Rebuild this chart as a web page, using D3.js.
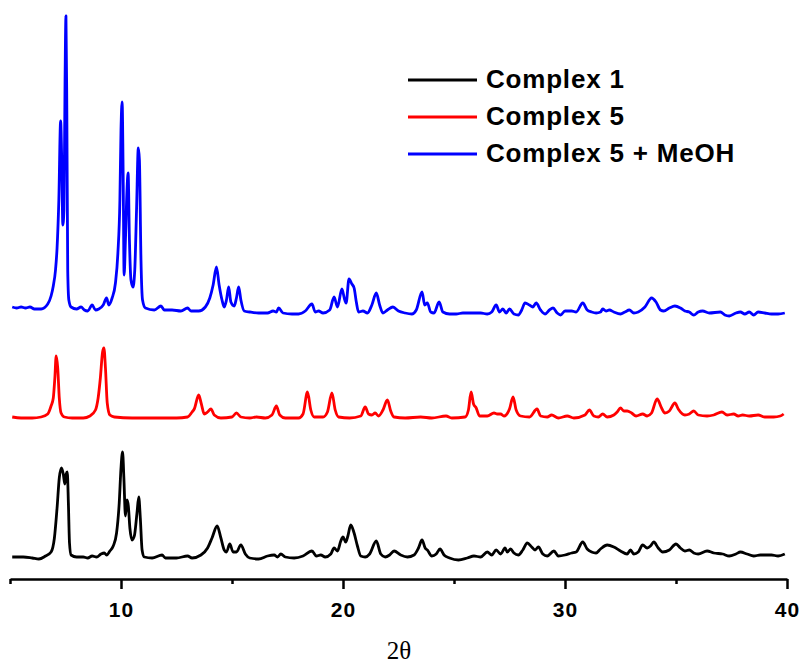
<!DOCTYPE html>
<html>
<head>
<meta charset="utf-8">
<script src="https://cdn.jsdelivr.net/npm/d3@7"></script>
<style>
body { margin: 0; background: #fff; }
</style>
</head>
<body>
<svg id="xrd" width="801" height="668"></svg>
<script>

// series names + colours (legend order)
let seriesNames = ["Complex 1", "Complex 5", "Complex 5 + MeOH"];
let seriesColors = ["#000000", "#ff0000", "#0000ff"];

// vertical offsets of each pattern (intensity units)
let offsets = [22, 162, 270];

// x axis ticks
let majorTicks = [10, 20, 30, 40];
let minorTicks = [5, 15, 25, 35];

// Complex 1  [2theta, intensity]
let complex1 = [
  [5.1,1],[5.6,1],[6.0,0],[6.3,-1],[6.6,2],[6.85,6],[7.0,20],[7.12,50],[7.22,80],[7.32,90],
  [7.4,84],[7.47,74],[7.53,84],[7.58,86],[7.63,55],[7.68,15],[7.75,3],[8.0,1],[8.3,1],[8.5,0],
  [8.7,2],[8.9,1],[9.1,4],[9.25,5],[9.35,3],[9.5,7],[9.65,12],[9.8,25],[9.92,55],[10.0,90],
  [10.07,106],[10.13,80],[10.2,42],[10.27,58],[10.33,52],[10.4,30],[10.5,18],[10.6,22],[10.72,45],[10.8,61],
  [10.87,40],[10.95,8],[11.05,1],[11.4,0],[11.85,3],[12.0,0],[12.5,0],[13.0,2],[13.2,0],[13.6,3],
  [13.9,10],[14.1,20],[14.33,32],[14.5,20],[14.65,8],[14.75,6],[14.9,14],[15.05,6],[15.2,6],[15.4,13],
  [15.6,4],[15.8,0],[16.2,-1],[16.6,2],[16.9,3],[17.05,1],[17.2,4],[17.4,1],[17.8,0],[18.2,2],
  [18.6,7],[18.8,2],[19.0,3],[19.2,1],[19.45,4],[19.6,10],[19.75,7],[19.9,17],[20.0,21],[20.12,16],
  [20.22,22],[20.35,33],[20.5,25],[20.65,12],[20.8,2],[21.0,1],[21.2,4],[21.5,17],[21.7,4],[21.9,1],
  [22.1,3],[22.3,7],[22.6,3],[22.9,1],[23.2,3],[23.4,10],[23.56,18],[23.7,10],[23.8,8],[24.0,2],
  [24.2,4],[24.37,9],[24.55,3],[24.8,0],[25.2,-2],[25.6,0],[25.9,2],[26.2,1],[26.5,6],[26.7,3],
  [26.9,8],[27.1,4],[27.3,10],[27.4,6],[27.55,9],[27.7,5],[27.9,3],[28.1,8],[28.3,15],[28.5,11],
  [28.65,8],[28.8,11],[29.0,4],[29.2,2],[29.5,7],[29.7,2],[30.0,3],[30.3,5],[30.5,6],[30.8,16],
  [31.0,9],[31.2,6],[31.4,5],[31.6,9],[31.9,13],[32.2,11],[32.5,7],[32.8,4],[32.95,8],[33.1,4],
  [33.3,6],[33.5,13],[33.7,10],[33.85,12],[34.0,16],[34.2,10],[34.4,6],[34.7,8],[35.0,14],[35.2,10],
  [35.4,7],[35.6,8],[35.8,5],[36.0,4],[36.4,7],[36.7,5],[37.1,4],[37.4,2],[37.7,4],[37.9,6],
  [38.2,4],[38.5,2],[38.8,3],[39.0,3],[39.3,3],[39.6,2],[39.9,4]
];

// Complex 5
let complex5 = [
  [5.1,1],[5.5,0],[6.0,0],[6.4,1],[6.7,4],[6.85,12],[6.95,20],[7.02,40],[7.08,62],[7.15,50],
  [7.22,20],[7.3,5],[7.45,1],[7.8,0],[8.3,0],[8.6,2],[8.85,8],[8.97,20],[9.07,40],[9.17,66],
  [9.23,70],[9.3,50],[9.38,15],[9.5,3],[9.7,1],[10.5,0],[11.5,0],[12.5,0],[13.0,1],[13.2,6],
  [13.3,9],[13.5,23],[13.62,14],[13.75,4],[13.9,6],[14.05,9],[14.2,3],[14.5,0],[15.0,1],[15.2,5],
  [15.4,1],[15.8,0],[16.1,1],[16.5,0],[16.8,3],[17.0,12],[17.15,3],[17.4,0],[18.0,0],[18.2,4],
  [18.4,26],[18.55,8],[18.7,1],[19.1,1],[19.3,6],[19.5,25],[19.65,8],[19.8,1],[20.3,0],[20.8,2],
  [21.0,11],[21.15,4],[21.3,3],[21.45,5],[21.6,2],[21.8,8],[22.0,18],[22.15,7],[22.3,1],[22.8,0],
  [23.5,1],[24.0,0],[24.64,2],[24.9,0],[25.5,1],[25.65,8],[25.77,26],[25.88,14],[26.0,10],[26.15,2],
  [26.5,2],[26.8,5],[26.95,4],[27.1,4],[27.25,2],[27.5,9],[27.66,21],[27.8,8],[28.0,2],[28.4,1],
  [28.74,9],[28.9,2],[29.2,1],[29.4,3],[29.7,0],[30.1,2],[30.4,0],[30.9,3],[31.1,8],[31.3,2],
  [31.5,1],[31.7,4],[31.9,1],[32.2,3],[32.35,6],[32.5,10],[32.65,7],[32.8,7],[33.0,5],[33.2,2],
  [33.5,4],[33.7,2],[33.9,5],[34.15,19],[34.35,10],[34.5,5],[34.7,7],[34.95,15],[35.1,9],[35.4,3],
  [35.6,4],[35.8,7],[36.0,3],[36.4,2],[36.7,3],[37.07,6],[37.3,3],[37.6,4],[37.8,2],[38.0,3],
  [38.3,2],[38.7,3],[39.0,1],[39.4,1],[39.7,2],[39.85,4]
];

// Complex 5 + MeOH
let complex5MeOH = [
  [5.1,3],[5.3,2],[5.5,3],[5.7,2],[5.9,3],[6.1,1],[6.4,1],[6.7,6],[6.85,14],[6.95,24],
  [7.05,40],[7.12,62],[7.2,110],[7.28,189],[7.33,150],[7.38,85],[7.43,100],[7.48,230],[7.52,294],[7.56,200],
  [7.6,40],[7.65,10],[7.75,3],[8.0,1],[8.2,3],[8.35,0],[8.5,-1],[8.7,5],[8.85,0],[9.0,1],
  [9.2,5],[9.35,12],[9.45,5],[9.6,12],[9.75,27],[9.86,57],[9.95,110],[10.0,180],[10.05,208],[10.1,130],
  [10.14,35],[10.2,70],[10.27,120],[10.32,137],[10.38,70],[10.45,30],[10.54,23],[10.62,40],[10.7,100],[10.78,162],
  [10.83,150],[10.9,50],[10.97,10],[11.1,2],[11.5,0],[11.8,4],[11.95,0],[12.3,0],[12.7,-1],[13.0,2],
  [13.15,-1],[13.5,-1],[13.8,3],[14.0,12],[14.15,25],[14.3,43],[14.42,25],[14.55,10],[14.65,3],[14.75,10],
  [14.85,23],[14.95,8],[15.1,4],[15.2,12],[15.3,23],[15.4,10],[15.55,-1],[15.8,-2],[16.2,-3],[16.6,-3],
  [16.85,-1],[17.0,-2],[17.1,2],[17.3,-3],[17.7,-4],[18.0,-4],[18.3,-1],[18.6,6],[18.75,-2],[18.9,-1],
  [19.1,-3],[19.4,0],[19.6,13],[19.75,3],[19.95,21],[20.08,10],[20.14,7],[20.27,31],[20.4,26],[20.5,22],
  [20.6,8],[20.7,-2],[20.9,-1],[21.1,-3],[21.3,5],[21.5,17],[21.65,5],[21.8,-3],[22.0,0],[22.25,3],
  [22.5,-1],[22.8,-3],[23.1,-4],[23.3,0],[23.56,18],[23.68,5],[23.8,7],[23.95,-2],[24.1,-3],[24.33,8],
  [24.5,-2],[24.8,-4],[25.1,-4],[25.4,-3],[25.8,-3],[26.2,-3],[26.5,-4],[26.7,-2],[26.9,5],[27.05,-2],
  [27.2,1],[27.35,-3],[27.5,1],[27.7,-4],[27.9,-5],[28.05,0],[28.2,7],[28.4,5],[28.55,3],[28.7,7],
  [28.9,0],[29.1,-4],[29.3,0],[29.46,2],[29.65,-3],[29.8,-5],[30.0,-1],[30.3,-1],[30.5,-2],[30.8,7],
  [31.0,0],[31.2,-2],[31.4,-3],[31.6,-2],[31.7,1],[31.85,-1],[32.0,0],[32.2,-2],[32.5,-4],[32.7,-2],
  [32.9,0],[33.1,-3],[33.3,-2],[33.6,3],[33.9,12],[34.1,8],[34.3,0],[34.45,-1],[34.7,2],[34.95,4],
  [35.2,2],[35.4,-1],[35.6,-2],[35.8,-5],[36.0,-2],[36.2,-1],[36.5,-3],[37.0,-2],[37.2,-5],[37.4,-6],
  [37.7,-3],[37.9,-2],[38.1,-4],[38.3,-2],[38.5,-5],[38.7,-2],[39.0,-3],[39.3,-4],[39.6,-4],[39.9,-3]
];

let allSeries = [complex1, complex5, complex5MeOH];

let svg = d3.select("#xrd");

let xScale = d3.scaleLinear()
  .domain([5, 40])
  .range([10, 787]);

let yScale = d3.scaleLinear()
  .domain([0, 570])
  .range([580, 10]);

//patterns
allSeries.forEach(function (data, i) {
  let line = d3.line()
    .x(d => xScale(d[0]))
    .y(d => yScale(d[1] + offsets[i]))
    .curve(d3.curveMonotoneX);

  svg.append("path")
    .datum(data)
    .attr("d", line)
    .style("fill", "none")
    .style("stroke", seriesColors[i])
    .style("stroke-width", 2.8)
    .style("stroke-linejoin", "round");
});

//minor ticks
svg.append("g")
  .attr("transform", "translate(0, 579)")
  .call(d3.axisBottom(xScale).tickValues(minorTicks).tickSize(5).tickSizeOuter(0).tickFormat(""))
  .call(g => g.selectAll("line").style("stroke-width", 2.5))
  .call(g => g.select(".domain").remove());

//x axis
let xAxis = svg.append("g")
  .attr("transform", "translate(0, 579)")
  .call(d3.axisBottom(xScale).tickValues(majorTicks).tickSize(10).tickSizeOuter(0).tickPadding(13));

xAxis.select(".domain").style("stroke-width", 2.5);
xAxis.selectAll(".tick line").style("stroke-width", 2.5);
xAxis.selectAll(".tick text")
  .style("font-family", "'Liberation Sans', Arial, sans-serif")
  .style("font-weight", "bold")
  .style("font-size", "21px")
  .style("letter-spacing", "1px")
  .style("fill", "#000");

//x label
svg.append("text")
  .attr("x", 399)
  .attr("y", 659)
  .style("text-anchor", "middle")
  .style("font-family", "'Liberation Serif', 'Times New Roman', serif")
  .style("font-size", "25px")
  .text("2θ");

//legend
let legend = svg.append("g");
seriesNames.forEach(function (name, i) {
  let ly = 80 + i * 37;
  legend.append("line")
    .attr("x1", 408)
    .attr("x2", 477)
    .attr("y1", ly)
    .attr("y2", ly)
    .style("stroke", seriesColors[i])
    .style("stroke-width", 2.8);
  legend.append("text")
    .attr("x", 486)
    .attr("y", ly + 8)
    .style("font-family", "'Liberation Sans', Arial, sans-serif")
    .style("font-weight", "bold")
    .style("font-size", "26px")
    .style("letter-spacing", "0.8px")
    .text(name);
});

</script>
</body>
</html>
